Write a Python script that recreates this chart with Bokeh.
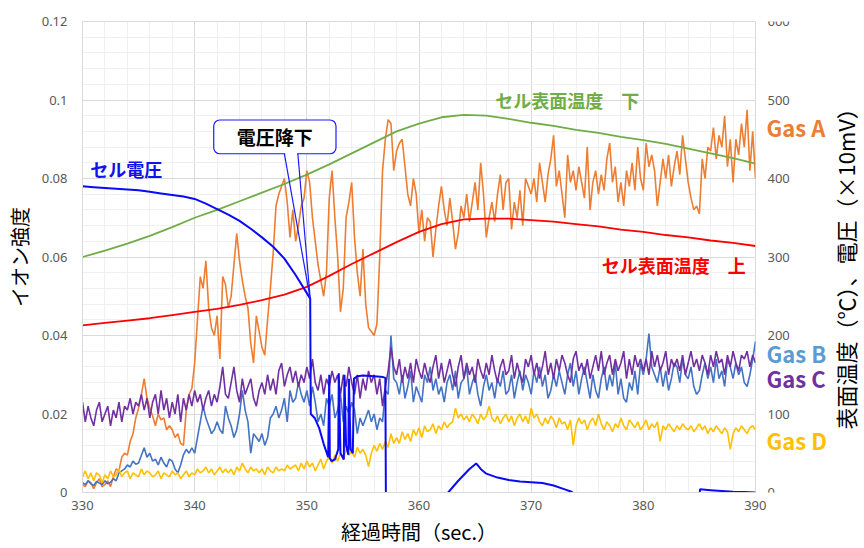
import numpy as np
from bokeh.plotting import figure
from bokeh.layouts import row
from bokeh.models import (Range1d, FixedTicker, CustomJSTickFormatter,
                          Label, BoxAnnotation, Arrow)
from bokeh.core.properties import value
from bokeh.embed import file_html
from bokeh.resources import INLINE

# ---------------- data ----------------
T_START = 330.0
T_STEP = 0.25
x_ticks = [330, 340, 350, 360, 370, 380, 390]
y_ticks = [0, 0.02, 0.04, 0.06, 0.08, 0.10, 0.12]
temp_ticks = [0, 100, 200, 300, 400, 500, 600]
temp_tick_labels = ["0", "100", "200", "300", "400", "500", "600"]

# ion intensity, in units of 1e-4 (one value every 0.25 s from 330 s)
gas_a_e4 = [
    20, 15, 30, 25, 10, 25, 35, 15, 20, 30, 15, 40, 60, 55, 90, 100,
    95, 130, 150, 190, 215, 250, 290, 240, 215, 195, 170, 200, 185, 190, 160, 170,
    160, 140, 150, 125, 120, 210, 250, 265, 330, 440, 550, 520, 590, 470, 420, 400,
    450, 340, 550, 530, 470, 500, 580, 660, 590, 540, 500, 470, 380, 330, 450, 410,
    370, 350, 440, 520, 610, 730, 760, 780, 800, 740, 650, 720, 640, 680, 730, 750,
    820, 790, 700, 640, 580, 540, 500, 560, 750, 820, 700, 600, 460, 520, 700, 740,
    790, 650, 560, 500, 620, 480, 420, 410, 400, 430, 600, 820, 900, 950, 940, 820,
    870, 890, 900, 830, 760, 730, 800, 760, 660, 720, 640, 700, 690, 600, 670, 730,
    780, 720, 680, 750, 690, 620, 660, 730, 700, 760, 690, 740, 790, 720, 840, 760,
    650, 700, 740, 690, 760, 810, 720, 790, 800, 670, 740, 700, 770, 680, 800, 780,
    760, 800, 740, 840, 790, 740, 810, 850, 910, 780, 820, 760, 700, 860, 790, 820,
    770, 830, 790, 750, 880, 720, 790, 820, 760, 810, 770, 850, 890, 790, 830, 740,
    790, 730, 820, 780, 840, 770, 880, 800, 770, 890, 830, 860, 820, 730, 790, 850,
    800, 860, 780, 830, 870, 810, 910, 850, 790, 750, 720, 730, 710, 850, 800, 880,
    870, 930, 850, 910, 880, 960, 830, 900, 790, 900, 860, 940, 880, 975, 820, 920,
    800]
gas_b_e4 = [
    25, 20, 30, 22, 18, 28, 24, 20, 30, 22, 26, 35, 30, 50, 55, 60,
    70, 65, 80, 72, 75, 95, 114, 90, 100, 80, 85, 70, 90, 75, 65, 85,
    80, 60, 50, 70, 96, 110, 100, 114, 100, 140, 180, 220, 190, 170, 150, 160,
    180, 160, 150, 220, 190, 170, 140, 160, 200, 260, 210, 180, 100, 150, 140, 130,
    150, 120, 140, 190, 200, 220, 190, 210, 240, 180, 260, 230, 240, 280, 250, 230,
    260, 220, 270, 230, 180, 200, 170, 240, 220, 250, 190, 210, 250, 180, 220, 200,
    230, 210, 150, 190, 170, 190, 210, 180, 200, 160, 190, 180, 260, 250, 400, 290,
    280, 250, 300, 240, 270, 310, 230, 270, 250, 230, 300, 280, 320, 260, 290, 250,
    270, 230, 280, 300, 260, 310, 240, 280, 290, 320, 250, 280, 300, 250, 220, 270,
    300, 260, 280, 240, 290, 270, 310, 250, 260, 300, 240, 280, 310, 260, 300, 280,
    250, 310, 280, 320, 270, 300, 240, 260, 300, 270, 310, 280, 250, 300, 330, 270,
    310, 250, 290, 320, 280, 240, 300, 260, 240, 290, 320, 260, 300, 270, 330, 250,
    290, 240, 230, 280, 260, 310, 250, 330, 300, 340, 405, 320, 300, 280, 320, 270,
    310, 260, 290, 330, 320, 280, 340, 300, 290, 320, 270, 250, 260, 300, 330, 290,
    320, 280, 340, 290, 310, 270, 340, 320, 290, 330, 300, 320, 280, 270, 300, 340,
    385]
gas_c_e4 = [
    230, 180, 220, 190, 170, 210, 230, 180, 200, 220, 170, 210, 190, 230, 180, 220,
    210, 240, 200, 230, 220, 250, 210, 240, 190, 230, 250, 200, 260, 210, 240, 190,
    230, 200, 250, 180, 240, 210, 250, 220, 260, 230, 250, 210, 240, 260, 220, 250,
    230, 270, 320, 250, 240, 280, 320, 260, 230, 290, 250, 270, 290, 240, 220, 260,
    280, 250, 300, 260, 290, 250, 310, 330, 270, 300, 320, 280, 310, 270, 300, 280,
    320, 290, 340, 280, 260, 300, 250, 290, 270, 310, 280, 300, 250, 300, 270, 320,
    280, 250, 300, 240, 290, 260, 310, 280, 300, 250, 290, 220, 270, 310, 370, 320,
    300, 340, 280, 320, 290, 330, 280, 340, 310, 290, 330, 300, 280, 320, 350, 290,
    330, 280, 310, 340, 300, 270, 320, 350, 290, 330, 300, 320, 280, 340, 310, 290,
    330, 300, 350, 310, 280, 320, 340, 300, 310, 350, 290, 330, 300, 280, 340, 320,
    350, 300, 330, 290, 320, 360, 300, 330, 290, 340, 310, 350, 330, 300, 280, 340,
    360, 310, 330, 300, 340, 290, 320, 350, 310, 360, 300, 330, 350, 300, 340, 310,
    330, 360, 290, 340, 300, 350, 320, 340, 310, 340, 300, 360, 320, 350, 310, 330,
    360, 300, 340, 320, 340, 310, 350, 300, 330, 360, 320, 340, 310, 350, 330, 300,
    350, 320, 360, 330, 340, 300, 350, 320, 360, 330, 310, 350, 340, 360, 320, 350,
    330]
gas_d_e4 = [
    40, 55, 35, 50, 30, 50, 45, 25, 45, 35, 55, 40, 45, 60, 40, 50,
    55, 35, 50, 45, 40, 60, 45, 55, 50, 40, 45, 55, 35, 50, 45, 40,
    55, 45, 50, 35, 45, 55, 40, 50, 45, 60, 50, 55, 65, 50, 60, 45,
    55, 65, 50, 60, 50, 60, 45, 65, 55, 75, 60, 50, 65, 55, 60, 50,
    60, 45, 65, 55, 50, 65, 55, 60, 55, 70, 60, 65, 70, 55, 75, 60,
    80, 65, 75, 55, 70, 85, 60, 80, 90, 75, 95, 80, 100, 85, 110, 95,
    105, 90, 115, 100, 110, 95, 66, 100, 120, 105, 125, 110, 130, 115, 150, 125,
    140, 125, 155, 135, 150, 130, 160, 145, 165, 140, 170, 155, 160, 175, 150, 170,
    160, 180, 165, 175, 180, 215, 190, 200, 185, 195, 180, 200, 190, 175, 200, 185,
    195, 220, 190, 180, 195, 175, 190, 200, 180, 195, 170, 190, 200, 180, 195, 175,
    215, 190, 200, 180, 170, 190, 175, 195, 185, 165, 190, 175, 180, 160, 185, 120,
    170, 190, 175, 185, 160, 180, 190, 170, 200, 175, 160, 180, 170, 155, 175, 165,
    190, 170, 160, 185, 175, 165, 180, 160, 170, 185, 160, 175, 165, 180, 130, 170,
    160, 175, 165, 155, 170, 160, 175, 165, 160, 170, 155, 165, 175, 160, 170, 150,
    165, 155, 170, 160, 150, 165, 155, 110, 150, 165, 155, 170, 160, 150, 165, 170,
    160]

# surface temperatures (degC), one value every 2 s
temp_t = [330, 332, 334, 336, 338, 340, 342, 344, 346, 348, 350, 352, 354, 356, 358, 360,
          362, 364, 366, 368, 370, 372, 374, 376, 378, 380, 382, 384, 386, 388, 390]
temp_lower = [300, 308, 317, 327, 338, 350, 360, 371, 382, 393, 405, 418, 432, 446, 460, 470,
              478, 481, 480, 476, 471, 467, 462, 458, 453, 449, 444, 438, 432, 426, 419]
temp_upper = [213, 216, 219, 222, 226, 230, 234, 239, 245, 252, 262, 276, 291, 305, 319, 332,
              342, 348, 349, 349, 347, 345, 342, 339, 335, 332, 328, 325, 321, 318, 314]

# cell voltage (x10 mV)
volt_t = [330, 331, 332, 333, 334, 335, 336, 337, 338, 339, 340, 341, 342, 343, 344, 345,
          346, 347, 348, 349, 350, 350.3, 350.35, 350.7, 351.1, 351.5, 351.9, 352.0, 352.05,
          352.2, 352.5, 352.8, 352.85, 353.0, 353.3, 353.35, 353.5, 353.7, 353.75, 353.9,
          354.1, 354.2, 354.5, 355, 356, 356.8, 357.0, 357.05, 362.3, 362.6, 363.5, 364.5,
          365.1, 365.5, 366, 367, 368, 369, 370, 371, 372, 373, 373.6, 374.5, 385.0, 385.05,
          386, 387, 388, 389, 390]
volt_v = [390, 389, 388, 387, 386, 385, 383, 381, 379, 377, 374, 368, 361, 354, 346, 336,
          325, 313, 298, 277, 254, 247, 100, 95, 82, 62, 45, 150, 44,
          40, 42, 55, 152, 50, 42, 150, 60, 48, 145, 55,
          50, 145, 148, 149, 148, 147, 146, -10, -10, 0, 15, 30,
          37, 30, 24, 19, 16, 14, 13, 12, 9, 4, 1, -10, -10, 4,
          3, 2, 1, 0.5, 0]

t = T_START + T_STEP * np.arange(len(gas_a_e4))
gas_a = np.array(gas_a_e4) / 1e4
gas_b = np.array(gas_b_e4) / 1e4
gas_c = np.array(gas_c_e4) / 1e4
gas_d = np.array(gas_d_e4) / 1e4

# ---------------- main figure ----------------
JP = "Noto Sans CJK JP"
TICK_FONT = "Noto Sans"
TOP, BOTTOM = 21, 53

p = figure(width=766, height=548, output_backend="svg", toolbar_location=None,
           x_range=Range1d(330, 390), y_range=Range1d(0, 0.12),
           min_border_left=82, min_border_right=11, min_border_top=TOP,
           min_border_bottom=BOTTOM,
           background_fill_color="white", border_fill_color="white")
p.extra_y_ranges = {"temp": Range1d(0, 600)}
p.outline_line_color = "#d9d9d9"

xt = FixedTicker(ticks=x_ticks, minor_ticks=list(range(330, 391, 2)))
yt = FixedTicker(ticks=y_ticks, minor_ticks=[round(i * 0.004, 4) for i in range(31)])
p.xaxis.ticker = xt
p.yaxis.ticker = yt
p.xgrid.ticker = xt
p.ygrid.ticker = yt
for g in (p.xgrid, p.ygrid):
    g.grid_line_color = "#d9d9d9"
    g.minor_grid_line_color = "#f0f0f0"

p.yaxis.formatter = CustomJSTickFormatter(
    code="return tick === 0 ? '0' : String(Number(tick.toFixed(2)));")

for ax in (p.left[0], p.below[0]):
    ax.axis_line_color = "#d9d9d9"
    ax.major_tick_line_color = None
    ax.minor_tick_line_color = None
    ax.major_label_text_font = TICK_FONT
    ax.major_label_text_font_size = "13px"
    ax.major_label_text_color = "#595959"
    ax.axis_label_text_font = JP
    ax.axis_label_text_font_size = "20px"
    ax.axis_label_text_font_style = "normal"
    ax.axis_label_text_color = "#000000"

p.left[0].major_label_standoff = 9
p.left[0].axis_label = "イオン強度"
p.left[0].axis_label_standoff = 5
p.below[0].major_label_standoff = 2
p.below[0].axis_label = "経過時間（sec.）"
p.below[0].axis_label_standoff = 4

# series
p.line(t, gas_a, line_color="#ED7D31", line_width=1.6)
p.line(t, gas_b, line_color="#4472C4", line_width=1.6)
p.line(t, gas_c, line_color="#7030A0", line_width=1.6)
p.line(t, gas_d, line_color="#FFC000", line_width=1.6)
p.line(temp_t, temp_lower, line_color="#70AD47", line_width=1.8, y_range_name="temp")
p.line(temp_t, temp_upper, line_color="#FF0000", line_width=1.8, y_range_name="temp")
p.line(volt_t, volt_v, line_color="#0A0AF5", line_width=2, y_range_name="temp")

def lab(fig, x, y, text, color, size="18px", **kw):
    fig.add_layout(Label(x=x, y=y, text=text, text_color=color, text_font=JP,
                         text_font_size=size, text_font_style="bold",
                         text_baseline="middle", **kw))

lab(p, 330.7, 0.0823, "セル電圧", "#1010F0")
lab(p, 366.8, 0.1000, "セル表面温度　下", "#70AD47")
lab(p, 376.3, 0.0580, "セル表面温度　上", "#FF0000")

# callout "電圧降下"
CALL = "#1A1AFF"
p.add_layout(BoxAnnotation(left=341.7, right=352.6, bottom=0.0863, top=0.0949,
                           fill_color="white", fill_alpha=1.0, line_color=CALL,
                           line_alpha=1.0, line_width=1.2, border_radius=6))
p.add_layout(BoxAnnotation(left=348.08, right=349.12, bottom=0.0860, top=0.0867,
                           fill_color="white", fill_alpha=1.0, line_color=None))
p.add_layout(Arrow(end=None, x_start=348.0, y_start=0.0863, x_end=350.3, y_end=0.0494,
                   line_color=CALL, line_width=1.2))
p.add_layout(Arrow(end=None, x_start=349.2, y_start=0.0863, x_end=350.3, y_end=0.0494,
                   line_color=CALL, line_width=1.2))
p.add_layout(Label(x=347.15, y=0.0906, text="電圧降下", text_color="#000000", text_font=JP,
                   text_font_size="19px", text_font_style="bold", text_align="center",
                   text_baseline="middle"))

# ---------------- right panel: secondary axis labels, gas names, axis title ----------------
q = figure(width=98, height=548, output_backend="svg", toolbar_location=None,
           x_range=Range1d(0, 98), y_range=Range1d(0, 600),
           x_axis_location=None, y_axis_location=None,
           min_border_left=0, min_border_right=0, min_border_top=TOP,
           min_border_bottom=BOTTOM,
           background_fill_color="white", border_fill_color="white")
q.outline_line_color = None
q.grid.visible = False

q.text(x=[1] * len(temp_ticks), y=temp_ticks, text=temp_tick_labels,
       text_font=value(TICK_FONT), text_font_size="13px", text_color="#595959",
       text_align="left", text_baseline="middle")

lab(q, 0, 465, "Gas A", "#ED7D31", size="22px")
lab(q, 0, 178, "Gas B", "#5B9BD5", size="22px")
lab(q, 0, 146, "Gas C", "#7030A0", size="22px")
lab(q, 0, 67, "Gas D", "#FFC000", size="22px")

q.add_layout(Label(x=78, y=292, text="表面温度（℃）、電圧（×10mV）", angle=90,
                   angle_units="deg", text_align="center", text_baseline="middle",
                   text_font=JP, text_font_size="22px", text_color="#000000"))

layout = row(p, q)
open("out.html", "w").write(file_html(layout, INLINE))
